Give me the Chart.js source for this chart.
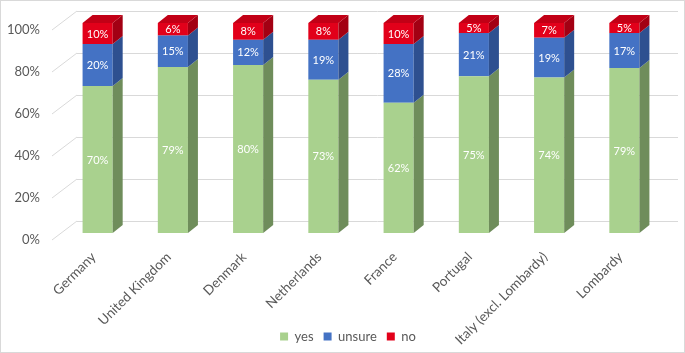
<!DOCTYPE html>
<html><head><meta charset="utf-8">
<script src="https://cdn.jsdelivr.net/npm/chart.js@4/dist/chart.umd.min.js"></script>
<style>html,body{margin:0;padding:0;background:#fff}</style>
</head><body>
<canvas id="c" width="685" height="353"></canvas>
<script>
const categories = ['Germany','United Kingdom','Denmark','Netherlands','France','Portugal','Italy (excl. Lombardy)','Lombardy'];
const yesValues    = [70, 79, 80, 73, 62, 74.6, 74, 78.6];
const unsureValues = [20, 15, 12, 19, 28, 20.6, 19, 16.6];
const noValues     = [10,  6,  8,  8, 10,  4.8,  7,  4.8];
const seriesNames  = ['yes','unsure','no'];
const yTicks = [0, 20, 40, 60, 80, 100];

const FONT = 'Lato, "Open Sans", sans-serif';
const GREY = '#595959';
const faces = [
  {front:'#a9d18e', side:'#6f8d5b', top:'#8db676'},
  {front:'#4472c4', side:'#2e5090', top:'#3962ac'},
  {front:'#e2001a', side:'#a30013', top:'#c20016'}
];
const DX = 10, DY = -8;

const threeD = {
  id: 'threeD',
  afterLayout(chart) {
    // let rotated category labels run into the legend band (as in the original) and centre the legend
    chart.scales.x.bottom = chart.height;
    if (chart.legend) { chart.legend.left += 17; chart.legend.right += 17; }
  },
  beforeDatasetsDraw(chart) {
    const {ctx, chartArea: a, scales: {y}} = chart;
    ctx.save();
    ctx.strokeStyle = '#d9d9d9';
    ctx.lineWidth = 1;
    yTicks.forEach(v => {
      const py = Math.round(y.getPixelForValue(v));
      ctx.beginPath();
      ctx.moveTo(a.left + 17, py - 12 + 0.5);
      ctx.lineTo(a.right + 16, py - 12 + 0.5);
      ctx.stroke();
      ctx.beginPath();
      ctx.moveTo(a.left - 8, py + 7);
      ctx.lineTo(a.left + 17, py - 12);
      ctx.stroke();
    });
    ctx.restore();
  },
  afterDatasetsDraw(chart) {
    const ctx = chart.ctx;
    const n = chart.data.datasets.length;
    ctx.save();
    for (let d = 0; d < n; d++) {
      const meta = chart.getDatasetMeta(d);
      meta.data.forEach(bar => {
        const p = bar.getProps(['x','y','base','width'], true);
        const l = p.x - p.width / 2, r = p.x + p.width / 2;
        ctx.fillStyle = faces[d].side;
        ctx.beginPath();
        ctx.moveTo(r, p.y); ctx.lineTo(r + DX, p.y + DY);
        ctx.lineTo(r + DX, p.base + DY); ctx.lineTo(r, p.base);
        ctx.closePath(); ctx.fill();
        if (d === n - 1) {
          ctx.fillStyle = faces[d].top;
          ctx.beginPath();
          ctx.moveTo(l, p.y); ctx.lineTo(l + DX, p.y + DY);
          ctx.lineTo(r + DX, p.y + DY); ctx.lineTo(r, p.y);
          ctx.closePath(); ctx.fill();
        }
      });
    }
    ctx.fillStyle = '#ffffff';
    ctx.font = '11px ' + FONT;
    ctx.textAlign = 'center';
    ctx.textBaseline = 'middle';
    for (let d = 0; d < n; d++) {
      const meta = chart.getDatasetMeta(d);
      const vals = chart.data.datasets[d].data;
      meta.data.forEach((bar, i) => {
        const p = bar.getProps(['x','y','base'], true);
        ctx.fillText(Math.round(vals[i]) + '%', p.x, (p.y + p.base) / 2 + 0.5);
      });
    }
    ctx.restore();
  },
  afterDraw(chart) {
    const ctx = chart.ctx;
    ctx.save();
    ctx.strokeStyle = '#d9d9d9';
    ctx.lineWidth = 1;
    ctx.strokeRect(0.5, 0.5, chart.width - 1, chart.height - 1);
    ctx.restore();
  }
};

new Chart(document.getElementById('c'), {
  type: 'bar',
  data: {
    labels: categories,
    datasets: [
      {label: seriesNames[0], data: yesValues, backgroundColor: faces[0].front},
      {label: seriesNames[1], data: unsureValues, backgroundColor: faces[1].front},
      {label: seriesNames[2], data: noValues, backgroundColor: faces[2].front}
    ]
  },
  options: {
    responsive: false,
    animation: false,
    barPercentage: 0.4,
    categoryPercentage: 1.0,
    layout: {padding: {left: 0, right: 23, top: 23, bottom: 0}},
    plugins: {
      tooltip: {enabled: false},
      legend: {
        position: 'bottom',
        labels: {boxWidth: 8, boxHeight: 8, padding: 10, color: GREY, font: {family: FONT, size: 13}}
      }
    },
    scales: {
      x: {
        stacked: true,
        grid: {display: false, drawTicks: false},
        border: {display: false},
        ticks: {minRotation: 45, maxRotation: 45, padding: 16, labelOffset: -4, color: GREY,
                font: {family: FONT, size: 13.5}},
        afterFit(s) { s.height = 87; s.paddingLeft = 0; s.paddingRight = 0; }
      },
      y: {
        stacked: true,
        min: 0, max: 100,
        afterBuildTicks(s) { s.ticks = yTicks.map(v => ({value: v})); },
        grid: {display: false, drawTicks: false},
        border: {display: false},
        ticks: {padding: 20, labelOffset: 7, color: GREY, font: {family: FONT, size: 13},
                callback: v => v + '%'},
        afterFit(s) { s.width = 60; s.paddingTop = 0; s.paddingBottom = 0; }
      }
    }
  },
  plugins: [threeD]
});
</script>
</body></html>
